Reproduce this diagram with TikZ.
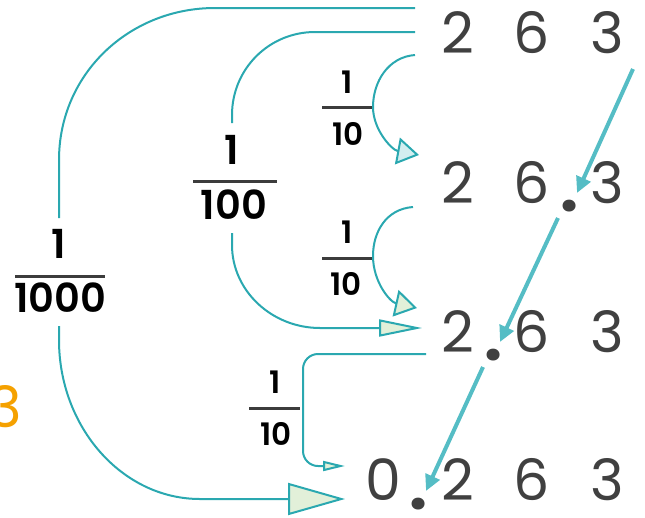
\documentclass[tikz,border=0pt]{standalone}
\usepackage{fontspec}
\setmainfont{Poppins}
\newfontfamily\labfont{Poppins SemiBold}
\usetikzlibrary{arrows.meta}
\definecolor{tealA}{HTML}{2AA8B0}
\definecolor{tealB}{HTML}{55BDC5}
\definecolor{digc}{HTML}{404040}
\definecolor{barc}{HTML}{3C3C3C}
\definecolor{orng}{HTML}{F5A100}
\definecolor{agreen}{HTML}{E2F0D9}
\definecolor{ablue}{HTML}{D3EEF0}
\begin{document}
\begin{tikzpicture}[x=1pt,y=-1pt,
  digit/.style={font=\fontsize{57}{57}\selectfont, text=digc, anchor=base, inner sep=0pt},
  ptdot/.style={font=\bfseries\fontsize{64}{64}\selectfont, text=digc, anchor=center, inner sep=0pt},
  lab/.style={font=\labfont\fontsize{40}{40}\selectfont, text=black, anchor=base, inner sep=0pt},
  slab/.style={font=\labfont\fontsize{31}{31}\selectfont, text=black, anchor=base, inner sep=0pt},
  fbar/.style={draw=barc, line width=3pt},
  conn/.style={draw=tealA, line width=2pt},
  bigtip/.style={-{Triangle[length=57pt,width=32pt,fill=agreen]}},
  midtip/.style={-{Triangle[length=43pt,width=17pt,fill=agreen]}},
  smalltipb/.style={-{Triangle[length=22pt,width=27pt,fill=ablue]}},
  smalltipg/.style={-{Triangle[length=22pt,width=27pt,fill=agreen]}},
  thintip/.style={-{Triangle[length=22pt,width=10pt,fill=agreen]}},
  diag/.style={draw=tealB, line width=4pt, -{Triangle[length=16pt,width=15pt]}}
]
\useasboundingbox (0,0) rectangle (645,517);

% rows of digits
\node[digit] (r1a) at (458,53) {2};
\node[digit] (r1b) at (532,53) {6};
\node[digit] (r1c) at (607,53) {3};

\node[digit] (r2a) at (458,203) {2};
\node[digit] (r2b) at (532,203) {6};
\node[ptdot] (r2p) at (570,206) {.};
\node[digit] (r2c) at (607,203) {3};

\node[digit] (r3a) at (458,352) {2};
\node[ptdot] (r3p) at (494,355) {.};
\node[digit] (r3b) at (532,352) {6};
\node[digit] (r3c) at (607,352) {3};

\node[digit] (r4z) at (383,500) {0};
\node[ptdot] (r4p) at (419,504) {.};
\node[digit] (r4a) at (458,500) {2};
\node[digit] (r4b) at (532,500) {6};
\node[digit] (r4c) at (607,500) {3};

% orange digit at left edge
\node[digit, text=orng] (or3) at (5,427) {3};

% fraction labels
\node[lab] (n1000) at (59,258) {1};
\draw[fbar] (15,276) -- (105,276);
\node[lab] (d1000) at (60,312) {1000};

\node[lab] (n100) at (232,164) {1};
\draw[fbar] (193,181) -- (277,181);
\node[lab] (d100) at (234,219) {100};

\node[slab] (n10a) at (347,93) {1};
\draw[fbar] (322,107) -- (373,107);
\node[slab] (d10a) at (348,145) {10};

\node[slab] (n10b) at (347,243) {1};
\draw[fbar] (322,258) -- (372,258);
\node[slab] (d10b) at (346,295) {10};

\node[slab] (n10c) at (275,393) {1};
\draw[fbar] (249,408) -- (300,408);
\node[slab] (d10c) at (276,445) {10};

% connector end points
\coordinate (s1000) at (415,8);
\coordinate (t1000a) at (59,218);
\coordinate (t1000b) at (59,326);
\coordinate (e1000) at (345,499);
\coordinate (s100) at (415,32);
\coordinate (t100a) at (232,123);
\coordinate (t100b) at (232,233);
\coordinate (e100) at (422,328);
\coordinate (s10a) at (415,55);
\coordinate (e10a) at (419,155);
\coordinate (s10b) at (413,207);
\coordinate (e10b) at (417,308);
\coordinate (s10c) at (426,354);
\coordinate (e10c) at (345,466);

% 1/1000
\draw[conn] (s1000) -- (215,8) .. controls (129,8) and (59,74) .. (59,160) -- (t1000a);
\draw[conn, bigtip] (t1000b) -- (59,340) .. controls (59,427) and (122,499) .. (200,499) -- (e1000);

% 1/100
\draw[conn] (s100) -- (315,32) .. controls (269,32) and (232,69) .. (232,115) -- (t100a);
\draw[conn, midtip] (t100b) -- (232,245) .. controls (232,291) and (272,328) .. (320,328) -- (e100);

% 1/10 arcs
\draw[conn, smalltipb] (s10a) .. controls (388,57) and (373,82) .. (373,107) .. controls (373,130) and (392,150) .. (e10a);
\draw[conn, smalltipg] (s10b) .. controls (386,209) and (373,232) .. (373,256) .. controls (373,282) and (390,302) .. (e10b);
\draw[conn, thintip, rounded corners=15pt] (s10c) -- (303,354) -- (303,466) -- (e10c);

% diagonal arrows (decimal point moves)
\coordinate (d1s) at (633,69);
\coordinate (d1e) at (577,193);
\coordinate (d2s) at (558,218);
\coordinate (d2e) at (500,342);
\coordinate (d3s) at (483,367);
\coordinate (d3e) at (426,491);
\draw[diag] (d1s) -- (d1e);
\draw[diag] (d2s) -- (d2e);
\draw[diag] (d3s) -- (d3e);
\end{tikzpicture}
\end{document}
